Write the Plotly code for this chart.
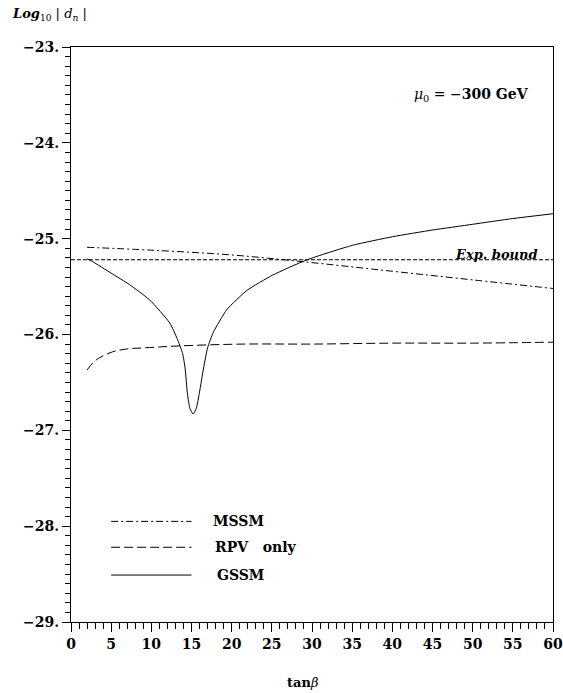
import plotly.graph_objects as go

# Data
gssm_x = [2, 2.7, 5, 7.3, 9.8, 12.3, 13.2, 13.9, 14.2, 14.5, 14.8, 15.2, 15.6, 16.0, 16.5, 17.0, 17.7, 19.4, 21.9, 25.1, 29.4, 35, 40, 45, 50, 55, 60]
gssm_y = [-25.21, -25.24, -25.36, -25.48, -25.64, -25.88, -26.04, -26.20, -26.35, -26.62, -26.77, -26.83, -26.77, -26.60, -26.35, -26.14, -25.98, -25.74, -25.54, -25.38, -25.22, -25.07, -24.98, -24.91, -24.85, -24.79, -24.74]

mssm_x = [2, 10, 20, 30, 40, 50, 60]
mssm_y = [-25.09, -25.12, -25.17, -25.25, -25.34, -25.43, -25.52]

rpv_x = [2, 2.8, 3.6, 5.2, 7, 9, 13.2, 21.4, 30, 40, 50, 60]
rpv_y = [-26.37, -26.29, -26.24, -26.18, -26.15, -26.14, -26.12, -26.10, -26.10, -26.09, -26.09, -26.08]

exp_bound = -25.22

legend_names = ["MSSM", "RPV&nbsp;&nbsp;&nbsp;only", "GSSM"]
legend_y = [-27.95, -28.22, -28.51]
legend_x = [5, 15]

x_ticks = list(range(0, 61, 5))
y_ticks = [-23, -24, -25, -26, -27, -28, -29]
y_tick_labels = ["\u221223.", "\u221224.", "\u221225.", "\u221226.", "\u221227.", "\u221228.", "\u221229."]

FONT = "DejaVu Serif"

fig = go.Figure()
fig.add_trace(go.Scatter(x=gssm_x, y=gssm_y, mode="lines",
                         line=dict(color="black", width=1, shape="spline", smoothing=0.5)))
fig.add_trace(go.Scatter(x=mssm_x, y=mssm_y, mode="lines",
                         line=dict(color="black", width=1, dash="7px,3px,2px,3px", shape="spline")))
fig.add_trace(go.Scatter(x=rpv_x, y=rpv_y, mode="lines",
                         line=dict(color="black", width=1, dash="9px,4px", shape="spline")))
fig.add_trace(go.Scatter(x=[0, 60.5], y=[exp_bound, exp_bound], mode="lines", cliponaxis=False,
                         line=dict(color="black", width=1, dash="4px,2px")))

dashes = ["7px,3px,2px,3px", "9px,4px", "solid"]
for name, ly, d in zip(legend_names, legend_y, dashes):
    fig.add_trace(go.Scatter(x=legend_x, y=[ly, ly], mode="lines",
                             line=dict(color="black", width=1, dash=d)))

label_x = [17.4, 17.7, 17.9]
for name, ly, lx in zip(legend_names, legend_y, label_x):
    fig.add_annotation(x=lx, y=ly, text="<b>" + name + "</b>", showarrow=False,
                       xanchor="left", yanchor="middle",
                       font=dict(family=FONT, size=14, color="black"))

fig.add_annotation(x=42.4, y=-23.5, text="<i>\u03bc</i><sub>0</sub> = \u2212<b>300 GeV</b>",
                   showarrow=False, xanchor="left", yanchor="middle",
                   font=dict(family=FONT, size=14, color="black"))
fig.add_annotation(x=47.6, y=exp_bound, text="<b><i>Exp. bound</i></b>",
                   showarrow=False, xanchor="left", yanchor="bottom", yshift=-4,
                   font=dict(family=FONT, size=13, color="black"))

fig.add_annotation(xref="paper", yref="paper", x=-0.127, y=1.056,
                   text="<b><i>Log</i></b><sub>10</sub> | <i>d<sub>n</sub></i> |",
                   showarrow=False, xanchor="left", yanchor="middle",
                   font=dict(family=FONT, size=13, color="black"))
fig.add_annotation(xref="paper", yref="paper", x=0.481, y=-0.106,
                   text="<b>tan</b><i>\u03b2</i>",
                   showarrow=False, xanchor="center", yanchor="middle",
                   font=dict(family=FONT, size=13, color="black"))

fig.update_layout(
    width=563, height=693, autosize=False,
    margin=dict(l=71, r=10, t=47, b=71),
    paper_bgcolor="white", plot_bgcolor="white",
    showlegend=False,
    font=dict(family=FONT, size=14, color="black"),
)
fig.update_xaxes(range=[0, 60], tickvals=x_ticks, ticktext=["<b>%d</b>" % v for v in x_ticks],
                 automargin=False, ticklabeloverflow="allow",
                 ticks="outside", ticklen=9, tickwidth=1, tickcolor="black",
                 minor=dict(dtick=1, ticks="outside", ticklen=6, tickcolor="black", tickwidth=1),
                 showgrid=False, zeroline=False, showline=True, linecolor="black", linewidth=1,
                 mirror=True, tickfont=dict(family=FONT, size=14, color="black"))
fig.update_yaxes(range=[-29, -23], tickvals=y_ticks, ticktext=["<b>%s</b>" % t for t in y_tick_labels],
                 automargin=False,
                 ticks="outside", ticklen=8, tickwidth=1, tickcolor="black",
                 minor=dict(dtick=0.1, ticks="outside", ticklen=5, tickcolor="black", tickwidth=1),
                 showgrid=False, zeroline=False, showline=True, linecolor="black", linewidth=1,
                 mirror=True, tickfont=dict(family=FONT, size=14, color="black"))

fig.write_html("out.html",
               config={"responsive": False, "displayModeBar": False},
               post_script="document.body.style.margin='0';document.body.style.overflow='hidden';")
